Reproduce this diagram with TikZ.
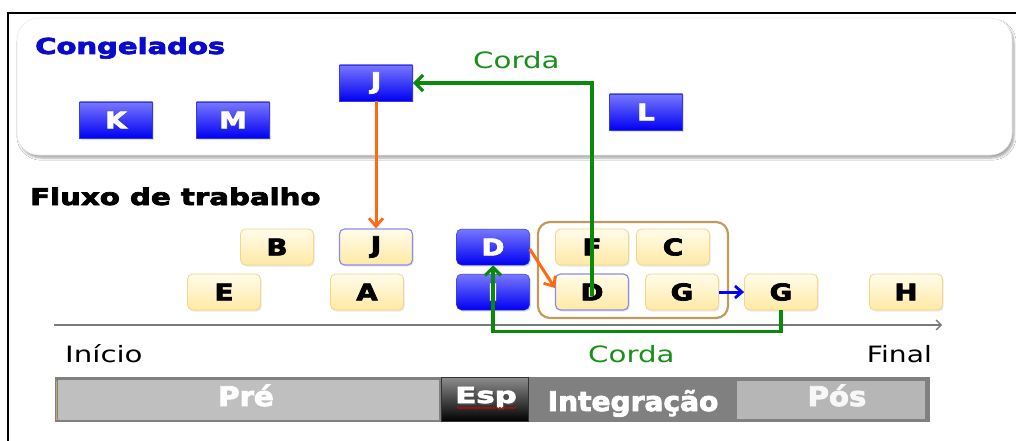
\documentclass[tikz,border=0pt]{standalone}
\usepackage{fontspec}
\setmainfont{DejaVu Sans}
\newfontfamily\heavy{DejaVu Sans Bold}[FakeBold=3]
\usepackage{graphicx}
\usetikzlibrary{arrows.meta,shadows,shadows.blur,decorations.pathmorphing}

\definecolor{frozenTop}{HTML}{7878FF}
\definecolor{frozenBot}{HTML}{0000F2}
\definecolor{frozenEdge}{HTML}{3A3AD8}
\definecolor{cardTop}{HTML}{FFFCEA}
\definecolor{cardBot}{HTML}{FFE9A4}
\definecolor{cardEdge}{HTML}{F2D68C}
\definecolor{pickedEdge}{HTML}{8C8CF0}
\definecolor{ropeGreen}{HTML}{0A8A0A}
\definecolor{labelGreen}{HTML}{1A8F1A}
\definecolor{pullOrange}{HTML}{FF6A10}
\definecolor{titleBlue}{HTML}{0A0ACC}
\definecolor{groupEdge}{HTML}{C49A5C}
\definecolor{barDark}{HTML}{808080}
\definecolor{barLight}{HTML}{BFBFBF}
\definecolor{barTan}{HTML}{C9A867}
\definecolor{axisGray}{HTML}{7A7A7A}

% horizontally widened text
\newcommand\wide[2][1.3]{\scalebox{#1}[1]{#2}}

\begin{document}
\begin{tikzpicture}[x=1pt,y=-1pt,
  tag/.style={minimum width=73pt, minimum height=36pt, inner sep=0pt,
    font=\fontsize{23}{23}\heavy},
  frozen/.style={tag, rectangle, top color=frozenTop, bottom color=frozenBot,
    draw=frozenEdge, line width=0.5pt, text=white,
    drop shadow={shadow xshift=1.5pt, shadow yshift=-1.5pt, opacity=0.25}},
  blocked/.style={frozen, rounded corners=5pt},
  card/.style={tag, rounded corners=5pt, top color=cardTop, bottom color=cardBot,
    draw=cardEdge, line width=0.8pt, text=black,
    drop shadow={shadow xshift=1.2pt, shadow yshift=-1.5pt, opacity=0.18}},
  picked/.style={card, draw=pickedEdge, line width=1.2pt},
  rope/.style={draw=ropeGreen, line width=3.4pt,
    -{Straight Barb[length=8pt, width=16pt, line width=3.2pt]}},
  pull/.style={draw=pullOrange, line width=3pt,
    -{Straight Barb[length=8pt, width=14pt, line width=2.8pt]}},
  push/.style={draw=blue, line width=3pt,
    -{Straight Barb[length=7pt, width=12pt, line width=2.8pt]}},
  heading/.style={anchor=base west, inner sep=0pt, font=\fontsize{22}{22}\heavy},
  plain/.style={inner sep=0pt, font=\fontsize{22.5}{22.5}\selectfont},
  phase/.style={anchor=base, inner sep=0pt, text=white, font=\fontsize{27}{27}\heavy}
]
\useasboundingbox (0,0) rectangle (1016,441);
\fill[white] (0,0) rectangle (1016,441);

% outer frame
\draw[line width=2.4pt] (8,441) -- (8,13) -- (1017,13);

% frozen items panel
\path[fill=white, draw=black!8, line width=0.6pt, rounded corners=22pt,
  blur shadow={shadow xshift=2pt, shadow yshift=-3pt, shadow blur steps=6, shadow opacity=35}]
  (17,18) rectangle (1012,155);

\node[heading, text=titleBlue] (frozenTitle) at (35,54) {\wide[1.32]{Congelados}};
\node[heading, font=\fontsize{23}{23}\heavy] (flowTitle) at (30,205) {\wide[1.27]{Fluxo de trabalho}};

\node[frozen] (k)    at (116,120) {\wide[1.2]{K}};
\node[frozen] (m)    at (233,120) {\wide[1.2]{M}};
\node[frozen] (jtop) at (376,83)  {\wide[1.2]{J}};
\node[frozen] (l)    at (646,112) {\wide[1.2]{L}};

\node[plain, anchor=base west, text=labelGreen] (ropeTop) at (473,69) {\wide{Corda}};

% work in progress
\draw[groupEdge, line width=2.2pt, rounded corners=12pt] (538,222) rectangle (728,318);

\node[card]    (b)     at (277,247) {\wide[1.2]{B}};
\node[picked]  (jflow) at (376,247) {\wide[1.2]{J}};
\node[card]    (e)     at (224,292) {\wide[1.2]{E}};
\node[card]    (a)     at (367,292) {\wide[1.2]{A}};
\node[blocked] (dblue) at (493,247) {\wide[1.2]{D}};
\node[blocked] (iblue) at (493,292) {\wide[1.2]{I}};
\node[card]    (f)     at (592,247) {\wide[1.2]{F}};
\node[card]    (c)     at (673,247) {\wide[1.2]{C}};
\node[picked]  (dflow) at (592,292) {\wide[1.2]{D}};
\node[card]    (gin)   at (682,292) {\wide[1.2]{G}};
\node[card]    (gout)  at (781,292) {\wide[1.2]{G}};
\node[card]    (h)     at (906,292) {\wide[1.2]{H}};

% time axis
\coordinate (axisStart) at (54,325);
\coordinate (axisEnd) at (942,325);
\draw[axisGray, line width=1.6pt, -{Straight Barb[length=5pt, width=10pt, line width=1.4pt]}] (axisStart) -- (axisEnd);

% connectors
\draw[pull] (jtop.south) -- (jflow.north);
\draw[pull] ([yshift=-2pt]dblue.east) -- ([yshift=4pt]dflow.west);
\draw[push] (gin.east) -- (gout.west);
\draw[rope] ([yshift=-4pt]dflow.center) -- (dflow.center |- jtop.east) -- (jtop.east);
\draw[rope] (gout.south) -- ++(0,21) -| (dblue.south);

\node[plain, anchor=base west] (start) at (65,362) {\wide{Início}};
\node[plain, anchor=base east] (finish) at (932,362) {\wide[1.25]{Final}};
\node[plain, anchor=base west, text=labelGreen] (ropeBottom) at (588,362) {\wide{Corda}};

% phase bar
\fill[barDark] (55,377) rectangle (930,422);
\fill[barLight] (57.5,379.5) rectangle (439,419.5);
\draw[barTan, line width=1.2pt] (56.5,381) -- (56.5,419.5) -- (60,419.5);
\shade[top color=black!45, bottom color=black, draw=black!80, line width=0.6pt] (441,377.5) rectangle (528,421.5);
\fill[barLight!95!black] (737,381) rectangle (925,418.5);
\node[phase] (pre) at (246,406) {\wide[1.08]{Pré}};
\node[phase, text=black!70, font=\fontsize{22}{22}\heavy] at (487.2,404.4) {\wide[1.4]{Esp}};
\node[phase, font=\fontsize{22}{22}\heavy] (esp) at (486,403) {\wide[1.4]{Esp}};
\draw[red!85!black, line width=0.7pt, decorate,
  decoration={snake, amplitude=0.7pt, segment length=3pt}] (457,408) -- (516,408);
\node[phase] (integ) at (633,411) {\wide[1.04]{Integração}};
\node[phase, text=white!97!black] (pos) at (837,406) {\wide[1.08]{Pós}};
\end{tikzpicture}
\end{document}
